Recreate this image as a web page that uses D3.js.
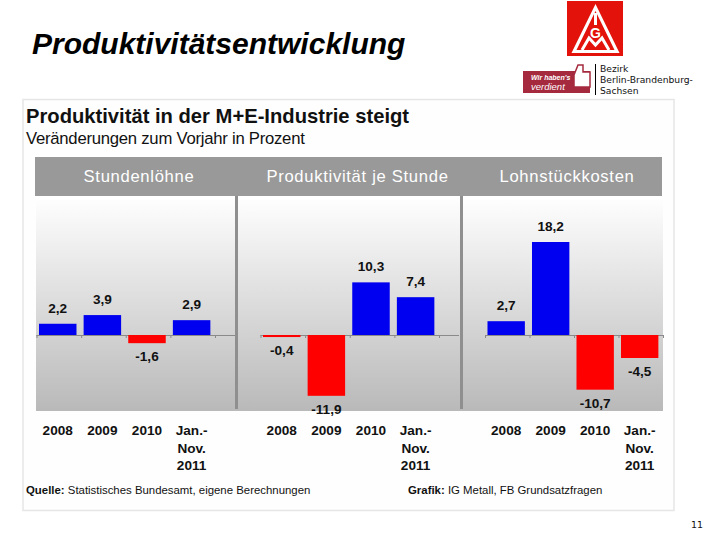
<!DOCTYPE html>
<html><head><meta charset="utf-8">
<script src="https://cdn.jsdelivr.net/npm/d3@7/dist/d3.min.js"></script>
<style>html,body{margin:0;padding:0;background:#fff}svg{display:block}text{font-family:"Liberation Sans",Arial,sans-serif}</style>
</head><body><svg id="c" width="720" height="540"></svg>
<script>
const panelTitles = ["Stundenlöhne", "Produktivität je Stunde", "Lohnstückkosten"];
const periods = ["2008", "2009", "2010", "Jan.-|Nov.|2011"];
const stundenloehne = [2.2, 3.9, -1.6, 2.9];
const produktivitaet = [-0.4, -11.9, 10.3, 7.4];
const lohnstueckkosten = [2.7, 18.2, -10.7, -4.5];
const seriesList = [stundenloehne, produktivitaet, lohnstueckkosten];
const panelRanges = [[36.5, 215], [260.5, 439], [485, 663]];
const separators = [236.5, 461.5];

const svg = d3.select("#c");
const defs = svg.append("defs");
const g = defs.append("linearGradient").attr("id","bg").attr("x1",0).attr("x2",0).attr("y1",0).attr("y2",1);
g.append("stop").attr("offset","0%").attr("stop-color","#ffffff");
g.append("stop").attr("offset","100%").attr("stop-color","#b9b9b9");

// Slide title
svg.append("text").attr("x",32).attr("y",54).attr("font-size",30).attr("font-style","italic").attr("font-weight","bold").attr("fill","#000").text("Produktivitätsentwicklung");

// Logo
const logo = svg.append("g");
logo.append("rect").attr("x",567).attr("y",1).attr("width",56).attr("height",55).attr("fill","#e3120b");
logo.append("path").attr("d","M595.5 4 L619.5 53 L571.5 53 Z M595.5 11 L576.5 50 L614.5 50 Z").attr("fill","#fff").attr("fill-rule","evenodd");
logo.append("path").attr("d","M595.5 13 L595.5 25").attr("fill","none").attr("stroke","#fff").attr("stroke-width",3);
logo.append("path").attr("d","M582 50 L589 38 L595.5 45 L602 38 L609 50").attr("fill","none").attr("stroke","#fff").attr("stroke-width",3);
logo.append("text").attr("x",595.5).attr("y",38).attr("text-anchor","middle").attr("font-size",14).attr("font-weight","bold").attr("fill","#fff").text("G");

// Badge
const badge = svg.append("g");
badge.append("rect").attr("x",523).attr("y",71).attr("width",67).attr("height",22).attr("fill","#a52a3e");
badge.append("path").attr("d","M574 75 L578 65 L583 65 L583 72 L590 72 L590 87 L574 87 Z").attr("fill","#fff").attr("stroke","#a52a3e").attr("stroke-width",1.5);
badge.append("text").attr("x",531).attr("y",80).attr("font-size",7).attr("font-style","italic").attr("font-weight","bold").attr("fill","#fff").text("Wir haben's");
badge.append("text").attr("x",531).attr("y",90).attr("font-size",9.5).attr("font-style","italic").attr("fill","#fff").text("verdient");
svg.append("rect").attr("x",595).attr("y",64).attr("width",1).attr("height",31).attr("fill","#000");
["Bezirk","Berlin-Brandenburg-","Sachsen"].forEach((t,i)=>{
  svg.append("text").attr("x",600).attr("y",72+i*11).attr("font-size",9.2).attr("fill","#111").style("font-family","'DejaVu Sans'").text(t);
});
svg.append("text").attr("x",691).attr("y",528).attr("font-size",9.5).attr("fill","#111").style("font-family","'DejaVu Sans'").text("11");

// Card
svg.append("rect").attr("x",23).attr("y",99.5).attr("width",651).attr("height",411).attr("fill","#fefefe").attr("stroke","#e6e6e6").attr("stroke-width",1.5);
svg.append("text").attr("x",26).attr("y",123).attr("font-size",20.2).attr("font-weight","bold").attr("fill","#111").text("Produktivität in der M+E-Industrie steigt");
svg.append("text").attr("x",26).attr("y",144).attr("font-size",16.7).attr("letter-spacing",-0.25).attr("fill","#111").text("Veränderungen zum Vorjahr in Prozent");

// Plot background
svg.append("rect").attr("x",36).attr("y",196).attr("width",627).attr("height",215).attr("fill","url(#bg)");
svg.append("rect").attr("x",35).attr("y",157).attr("width",627).attr("height",39).attr("fill","#999999");

const y = d3.scaleLinear().domain([0, 18.2]).range([335, 242]);
const titleX = [139, 357.5, 567];
separators.forEach(x=>{
  svg.append("rect").attr("x",x-1.5).attr("y",196).attr("width",3).attr("height",213).attr("fill","#8f8f8f");
});

seriesList.forEach((vals,p)=>{
  const x = d3.scaleBand().domain(d3.range(4)).range(panelRanges[p]).paddingInner(0.16).paddingOuter(0.08).align(0.35);

  svg.append("text").attr("x",titleX[p]).attr("y",182).attr("text-anchor","middle").attr("font-size",16.6).attr("letter-spacing",0.7).attr("fill","#fff").text(panelTitles[p]);

  const edge = d3.scaleLinear().domain([0,4]).range(panelRanges[p]);
  const axis = svg.append("g").attr("transform",`translate(0,${y(0)})`).call(d3.axisBottom(edge).tickValues(d3.range(5)).tickSize(3).tickFormat(""));
  axis.selectAll("path,line").attr("stroke","#8a8a8a");
  axis.select("path").attr("d",`M${panelRanges[p][0]},0.5H${panelRanges[p][1]+(p<2?20:0)}`);

  svg.append("g").selectAll("rect").data(vals).join("rect")
    .attr("x",(d,i)=>x(i)).attr("width",x.bandwidth())
    .attr("y",d=>y(Math.max(d,0))).attr("height",d=>Math.abs(y(d)-y(0)))
    .attr("fill",d=>d>=0?"#0000f0":"#ff0000");

  svg.append("g").selectAll("text").data(vals).join("text")
    .attr("x",(d,i)=>x(i)+x.bandwidth()/2)
    .attr("y",d=>d>=0?y(d)-11:y(d)+18)
    .attr("text-anchor","middle").attr("font-size",13.6).attr("font-weight","bold").attr("fill","#111")
    .text(d=>String(d).replace(".",","));

  periods.forEach((per,i)=>{
    per.split("|").forEach((t,k)=>{
      svg.append("text").attr("x",x(i)+x.bandwidth()/2).attr("y",435+k*17.5).attr("text-anchor","middle").attr("font-size",13.6).attr("font-weight","bold").attr("fill","#111").text(t);
    });
  });
});

// Footer
const f1 = svg.append("text").attr("x",26).attr("y",494).attr("font-size",11.4).attr("fill","#111");
f1.append("tspan").attr("font-weight","bold").text("Quelle: ");
f1.append("tspan").text("Statistisches Bundesamt, eigene Berechnungen");
const f2 = svg.append("text").attr("x",408).attr("y",494).attr("font-size",11.4).attr("fill","#111");
f2.append("tspan").attr("font-weight","bold").text("Grafik: ");
f2.append("tspan").text("IG Metall, FB Grundsatzfragen");
</script></body></html>
